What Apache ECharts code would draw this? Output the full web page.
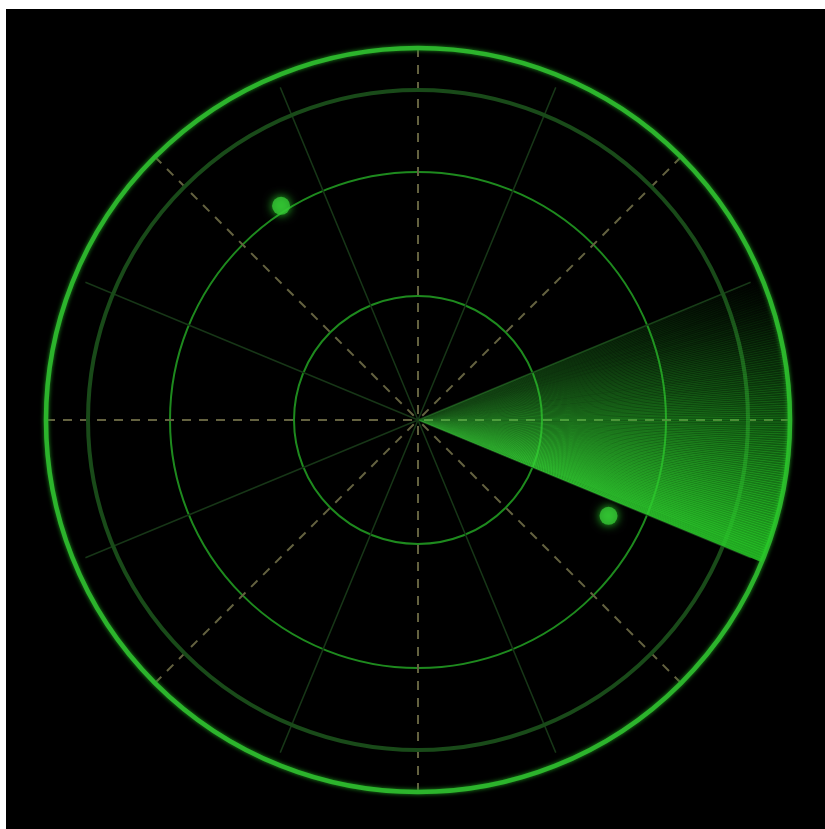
<!DOCTYPE html>
<html>
<head>
<meta charset="utf-8">
<script src="https://cdn.jsdelivr.net/npm/echarts@6/dist/echarts.min.js"></script>
<style>
html,body{margin:0;padding:0;background:#ffffff;width:825px;height:829px;overflow:hidden;}
#chart{position:absolute;left:6px;top:9px;width:819px;height:820px;background:#000;}
</style>
</head>
<body>
<div id="chart"></div>
<script>
// ---- data ----
// radar rings (radius units)
const radiusMax = 3;
const radiusInterval = 1;
// blips: [radius, angle in degrees, counter-clockwise from east]
const blipRadius = [2.05, 1.72];
const blipAngle = [122.6, 333.3];
// sweep sector: trailing edge angle -> leading edge angle (degrees)
const sweepTrailing = 22.5;
const sweepLeading = 337.5;

const blips = blipRadius.map((r, i) => [r, blipAngle[i]]);

const chart = echarts.init(document.getElementById('chart'));
const center = [412, 411];

const option = {
  backgroundColor: '#000',
  animation: false,
  polar: [
    { center: center, radius: 372 },
    { center: center, radius: 330 },
    { center: center, radius: 360 }
  ],
  angleAxis: [
    {
      polarIndex: 0, type: 'value', min: 0, max: 360, interval: 45,
      startAngle: 0, clockwise: false,
      axisLine: { show: true, lineStyle: { color: '#2cb42c', width: 4.5, shadowBlur: 4, shadowColor: '#1f8f1f' } },
      axisTick: { show: false }, axisLabel: { show: false },
      splitLine: { show: true, lineStyle: { color: '#646240', width: 2, type: [9, 8] } }
    },
    {
      polarIndex: 1, type: 'value', min: 0, max: 360, interval: 45,
      startAngle: 0, clockwise: false,
      axisLine: { show: true, lineStyle: { color: '#194a19', width: 4 } },
      axisTick: { show: false }, axisLabel: { show: false },
      splitLine: { show: false }
    },
    {
      polarIndex: 2, type: 'value', min: 0, max: 360, interval: 45,
      startAngle: 22.5, clockwise: false,
      axisLine: { show: false },
      axisTick: { show: false }, axisLabel: { show: false },
      splitLine: { show: true, lineStyle: { color: '#173617', width: 1.5 } }
    }
  ],
  radiusAxis: [
    {
      polarIndex: 0, min: 0, max: radiusMax, interval: radiusInterval,
      axisLine: { show: false }, axisTick: { show: false }, axisLabel: { show: false },
      splitLine: { show: true, lineStyle: { color: '#1e8a1e', width: 2 } }
    },
    {
      polarIndex: 1, min: 0, max: radiusMax,
      axisLine: { show: false }, axisTick: { show: false }, axisLabel: { show: false },
      splitLine: { show: false }
    },
    {
      polarIndex: 2, min: 0, max: radiusMax,
      axisLine: { show: false }, axisTick: { show: false }, axisLabel: { show: false },
      splitLine: { show: false }
    }
  ],
  series: [
    {
      type: 'custom',
      coordinateSystem: 'polar',
      polarIndex: 0,
      data: [[radiusMax, sweepTrailing, sweepLeading]],
      renderItem: function (params, api) {
        const cs = params.coordSys;
        const cx = cs.cx, cy = cs.cy;
        const pT = api.coord([api.value(0), api.value(1)]);
        const pL = api.coord([api.value(0), api.value(2)]);
        const R = Math.hypot(pT[0] - cx, pT[1] - cy);
        let aT = Math.atan2(pT[1] - cy, pT[0] - cx);
        let aL = Math.atan2(pL[1] - cy, pL[0] - cx);
        if (aL < aT) aL += Math.PI * 2;
        const n = 120;
        const children = [];
        for (let i = 0; i < n; i++) {
          const t0 = i / n, t1 = (i + 1) / n;
          const t = (t0 + t1) / 2;
          const a = Math.pow(t, 1.25) * 0.85;
          children.push({
            type: 'sector',
            shape: { cx: cx, cy: cy, r0: 0, r: R,
              startAngle: aT + (aL - aT) * t0 - 0.002,
              endAngle: aT + (aL - aT) * t1 },
            style: {
              fill: {
                type: 'radial', x: cx, y: cy, r: R, global: true,
                colorStops: [
                  { offset: 0, color: 'rgba(60,220,60,' + Math.min(1, a + 0.3 * (1 - t)) + ')' },
                  { offset: 1, color: 'rgba(38,200,38,' + a + ')' }
                ]
              },
              stroke: null
            }
          });
        }
        return { type: 'group', children: children };
      },
      silent: true
    },
    {
      type: 'scatter',
      coordinateSystem: 'polar',
      polarIndex: 0,
      data: blips,
      symbolSize: 18,
      itemStyle: { color: '#35c435', shadowBlur: 10, shadowColor: '#33ff33' }
    }
  ]
};
chart.setOption(option);
</script>
</body>
</html>
